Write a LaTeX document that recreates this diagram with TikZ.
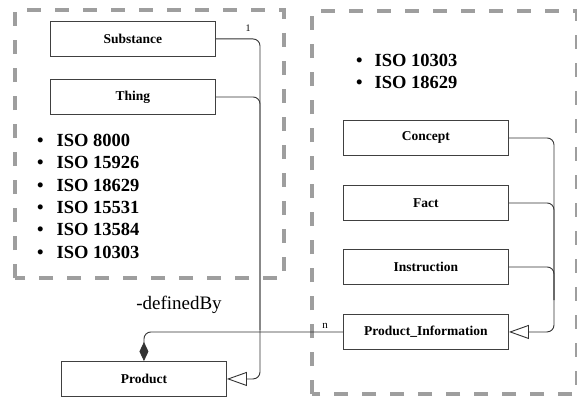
\documentclass[tikz,border=0pt]{standalone}
\usepackage{fontspec}
\setmainfont{Liberation Serif}
\usetikzlibrary{arrows.meta}
\begin{document}
\begin{tikzpicture}[x=1pt,y=-1pt,
  frame/.style={draw=black!38, line width=3.8pt, dash pattern=on 14pt off 14pt},
  cls/.style={draw=black!75, line width=0.9pt, minimum width=165pt, minimum height=35pt, inner sep=0pt, font=\fontsize{13.5}{14}\selectfont\bfseries, anchor=north west},
  conn/.style={draw=black!80, line width=0.9pt, rounded corners=7pt},
  gen/.style={conn, -{Triangle[open, length=20pt, width=14pt, line width=0.9pt]}},
  blist/.style={align=left, anchor=north west, inner sep=0pt, font=\fontsize{18.5}{22.3}\selectfont\bfseries}]
\useasboundingbox (0,0) rectangle (577,396);
\fill[white] (0,0) rectangle (577,396);
% frames
\draw[frame] (15,278) -- (15,10) -- (284,10) -- (284,278) -- cycle;
\draw[frame] (312,394) -- (312,11) -- (577,11) -- (577,394) -- cycle;
% classes
\node[cls] (sub) at (50,21) {Substance};
\node[cls] (thing) at (50,79) {Thing};
\node[cls] (prod) at (61,361) {Product};
\node[cls] (con) at (343,120) {Concept};
\node[cls] (fact) at (343,185) {Fact};
\node[cls] (ins) at (343,249) {Instruction};
\node[cls] (pi) at (343,314) {Product\_Information};
% lists
\node[blist] (l1) at (37,134) {\textbullet\hspace{13pt}ISO 8000\\ \textbullet\hspace{13pt}ISO 15926\\ \textbullet\hspace{13pt}ISO 18629\\ \textbullet\hspace{13pt}ISO 15531\\ \textbullet\hspace{13pt}ISO 13584\\ \textbullet\hspace{13pt}ISO 10303};
\node[blist] (l2) at (356,54) {\textbullet\hspace{12pt}ISO 10303\\ \textbullet\hspace{12pt}ISO 18629};
% connectors left
\coordinate (busL) at (260,330);
\draw[conn] (thing.east) -| (busL);
\draw[gen] (sub.east) -| (busL) |- (prod.east);
\node[font=\fontsize{10}{10}\selectfont] (one) at (248,28) {1};
% connectors right
\coordinate (busR) at (554,300);
\draw[conn] (fact.east) -| (busR);
\draw[conn] (ins.east) -| (busR);
\draw[gen] (con.east) -| (busR) |- (pi.east);
% composition
\draw[conn, {Diamond[length=19pt, width=9pt]}-] (prod.north) |- (pi.west);
\node[font=\fontsize{11}{11}\selectfont] (n) at (325,326) {n};
\node[font=\fontsize{19}{20}\selectfont] (def) at (179,305) {-definedBy};
\end{tikzpicture}
\end{document}
